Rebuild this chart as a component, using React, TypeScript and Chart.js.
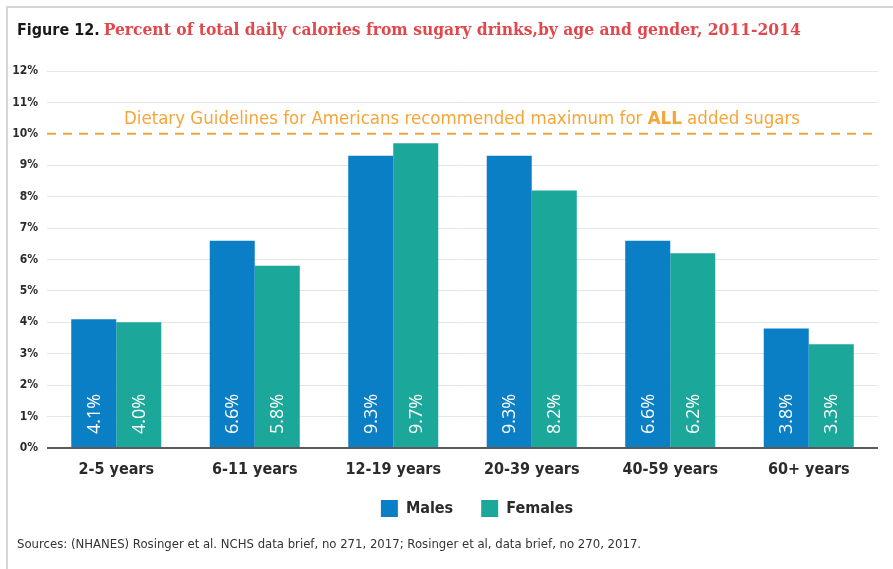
import React, { useEffect, useRef } from "react";
import { Chart, registerables } from "chart.js";

Chart.register(...registerables);

const categories = ["2-5 years", "6-11 years", "12-19 years", "20-39 years", "40-59 years", "60+ years"];
const males = [4.1, 6.6, 9.3, 9.3, 6.6, 3.8];
const females = [4.0, 5.8, 9.7, 8.2, 6.2, 3.3];
const seriesNames = ["Males", "Females"];
const guidelineValue = 10;
const yTicks = [0, 1, 2, 3, 4, 5, 6, 7, 8, 9, 10, 11, 12];
const titlePrefix = "Figure 12.";
const titleText = "Percent of total daily calories from sugary drinks,by age and gender, 2011-2014";
const guidelineText = ["Dietary Guidelines for Americans recommended maximum for ", "ALL", " added sugars"];
const sourceText = "Sources: (NHANES) Rosinger et al. NCHS data brief, no 271, 2017; Rosinger et al, data brief, no 270, 2017.";

const COND = '"Liberation Sans Narrow", "DejaVu Sans Condensed", "Roboto Condensed", sans-serif';
const SLAB = '"DejaVu Serif Condensed", "DejaVu Serif", serif';

const decorPlugin = {
  id: "decor",
  afterLayout(chart: any) {
    const l = chart.legend;
    if (l) {
      const dx = 477 - (l.left + l.right) / 2;
      l.left += dx;
      l.right += dx;
      l.top -= 6;
      l.bottom -= 6;
    }
  },
  beforeDraw(chart: any) {
    const ctx = chart.ctx;
    ctx.save();
    ctx.fillStyle = "#ffffff";
    ctx.fillRect(0, 0, chart.width, chart.height);
    ctx.strokeStyle = "#d6d6d6";
    ctx.lineWidth = 2;
    ctx.beginPath();
    ctx.moveTo(7, chart.height);
    ctx.lineTo(7, 7);
    ctx.lineTo(chart.width, 7);
    ctx.stroke();
    // title
    ctx.textBaseline = "middle";
    ctx.textAlign = "left";
    ctx.font = `bold 16px ${COND}`;
    ctx.fillStyle = "#1a1a1a";
    ctx.fillText(titlePrefix, 17, 31);
    const w = ctx.measureText(titlePrefix).width;
    ctx.font = `bold 17.3px ${SLAB}`;
    ctx.fillStyle = "#e1474b";
    ctx.fillText(titleText, 17 + w + 4, 31);
    // source
    ctx.font = `13px ${COND}`;
    ctx.fillStyle = "#333333";
    ctx.fillText(sourceText, 17, 545);
    ctx.restore();
  },
  beforeDatasetsDraw(chart: any) {
    const ctx = chart.ctx;
    const y = chart.scales.y.getPixelForValue(guidelineValue);
    const area = chart.chartArea;
    ctx.save();
    ctx.strokeStyle = "#f6a53a";
    ctx.lineWidth = 2;
    ctx.setLineDash([9, 7]);
    ctx.beginPath();
    ctx.moveTo(area.left, y);
    ctx.lineTo(area.right, y);
    ctx.stroke();
    ctx.setLineDash([]);
    // guideline text
    ctx.textBaseline = "middle";
    ctx.textAlign = "left";
    const fonts = [`18.5px ${COND}`, `bold 18.5px ${COND}`, `18.5px ${COND}`];
    let total = 0;
    const widths = guidelineText.map((t, i) => {
      ctx.font = fonts[i];
      const m = ctx.measureText(t).width;
      total += m;
      return m;
    });
    let x = 462 - total / 2;
    ctx.fillStyle = "#f6a53a";
    guidelineText.forEach((t, i) => {
      ctx.font = fonts[i];
      ctx.fillText(t, x, y - 15);
      x += widths[i];
    });
    ctx.restore();
  },
  afterDatasetsDraw(chart: any) {
    const ctx = chart.ctx;
    const base = chart.scales.y.getPixelForValue(0);
    ctx.save();
    ctx.fillStyle = "#ffffff";
    ctx.font = `18px "Open Sans", "DejaVu Sans", sans-serif`;
    ctx.textBaseline = "middle";
    ctx.textAlign = "left";
    chart.data.datasets.forEach((ds: any, di: number) => {
      const meta = chart.getDatasetMeta(di);
      meta.data.forEach((bar: any, i: number) => {
        ctx.save();
        ctx.translate(bar.x, base - 14);
        ctx.rotate(-Math.PI / 2);
        ctx.fillText(ds.data[i].toFixed(1) + "%", 0, 1);
        ctx.restore();
      });
    });
    // zero line
    ctx.strokeStyle = "#5a5a5a";
    ctx.lineWidth = 2;
    ctx.beginPath();
    ctx.moveTo(chart.chartArea.left, base);
    ctx.lineTo(chart.chartArea.right, base);
    ctx.stroke();
    ctx.restore();
  },
};

export default function App() {
  const ref = useRef<HTMLCanvasElement>(null);
  useEffect(() => {
    document.body.style.margin = "0";
    const chart = new Chart(ref.current as HTMLCanvasElement, {
      type: "bar",
      data: {
        labels: categories,
        datasets: [
          { label: seriesNames[0], data: males, backgroundColor: "#0a7fc5", borderWidth: 0, categoryPercentage: 0.65, barPercentage: 1 },
          { label: seriesNames[1], data: females, backgroundColor: "#1ba89b", borderWidth: 0, categoryPercentage: 0.65, barPercentage: 1 },
        ],
      },
      options: {
        responsive: false,
        animation: false,
        layout: { padding: { top: 71, right: 15, left: 0, bottom: 36 } },
        scales: {
          x: {
            grid: { display: false },
            border: { display: false },
            ticks: { color: "#2b2b2b", font: { family: COND, size: 16, weight: "bold" }, padding: 4 },
            afterFit: (s: any) => { s.height = 30; },
          },
          y: {
            min: 0,
            max: 12,
            afterBuildTicks: (s: any) => { s.ticks = yTicks.map((v) => ({ value: v })); },
            afterFit: (s: any) => { s.width = 47; },
            grid: {
              drawTicks: false,
              color: (c: any) => (c.tick && (c.tick.value === guidelineValue || c.tick.value === 0) ? "rgba(0,0,0,0)" : "#e6e6e6"),
            },
            border: { display: false },
            ticks: {
              color: "#2b2b2b",
              padding: 9,
              font: { family: COND, size: 12, weight: "bold" },
              callback: (v: any) => v + "%",
            },
          },
        },
        plugins: {
          legend: {
            position: "bottom",
            labels: {
              boxWidth: 17,
              boxHeight: 17,
              padding: 28,
              color: "#2b2b2b",
              font: { family: COND, size: 16, weight: "bold" },
            },
          },
          tooltip: { enabled: false },
        },
      },
      plugins: [decorPlugin],
    } as any);
    return () => chart.destroy();
  }, []);
  return <canvas ref={ref} width={893} height={569} style={{ display: "block" }} />;
}
